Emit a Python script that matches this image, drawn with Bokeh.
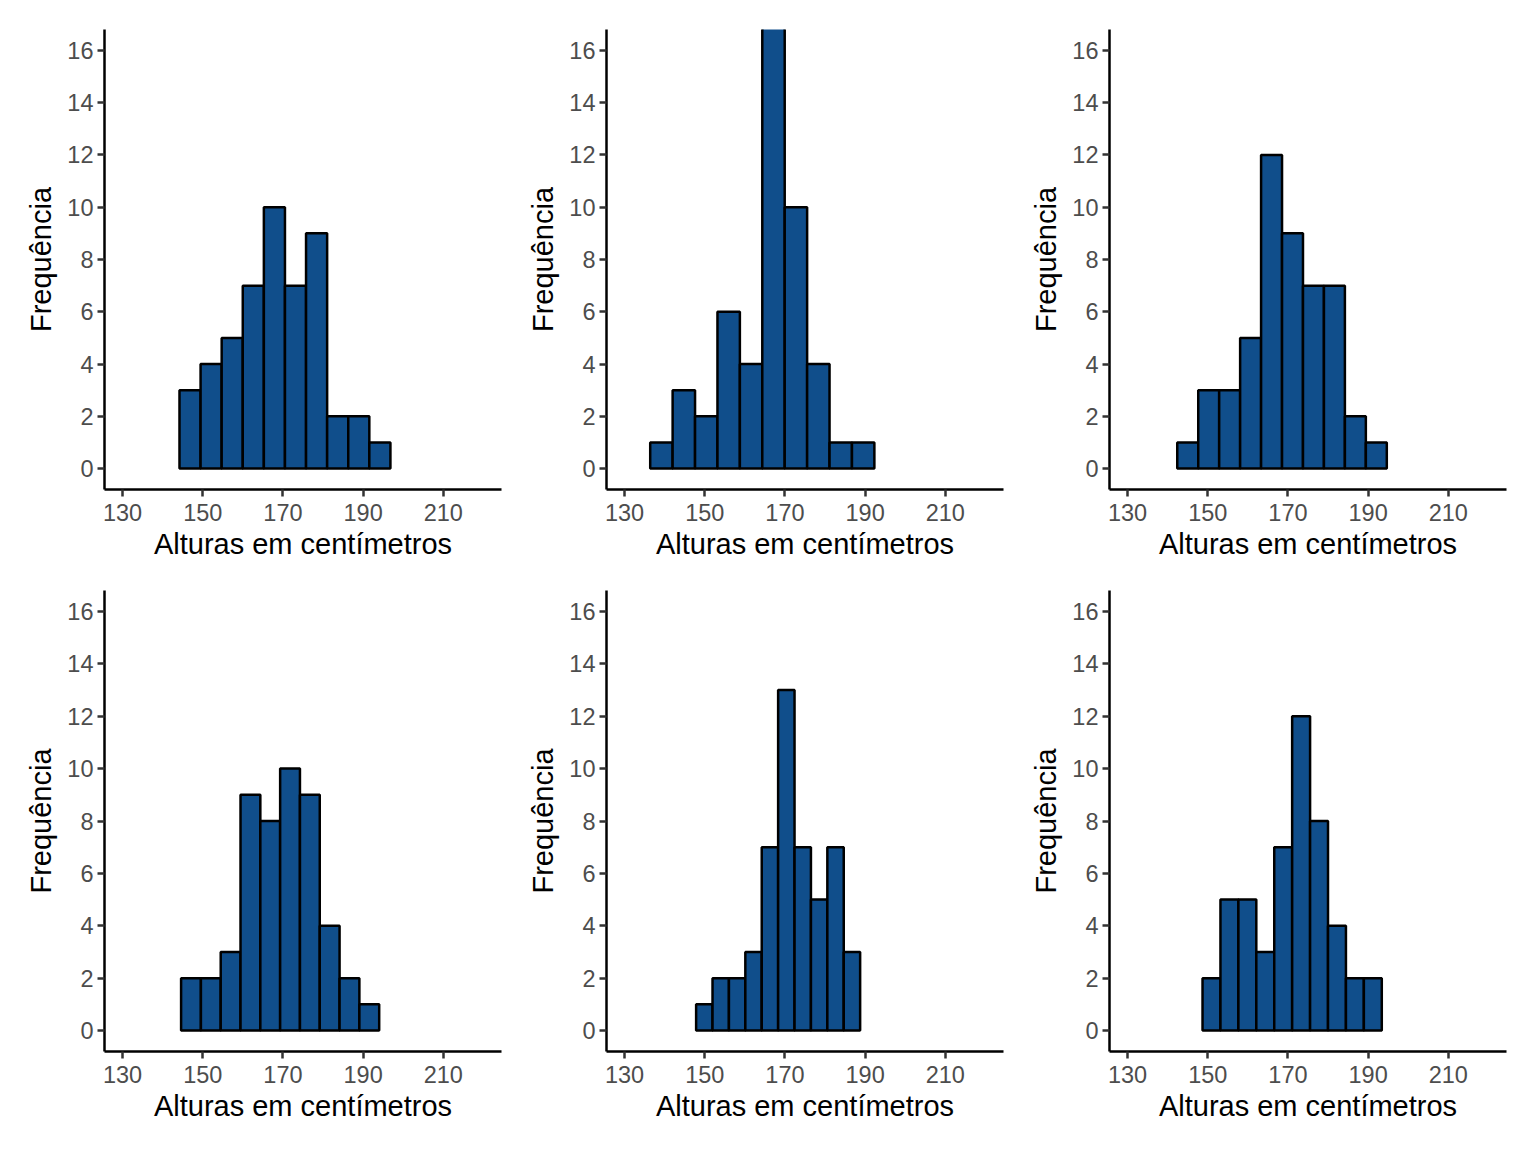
import numpy as np
from bokeh.plotting import figure
from bokeh.layouts import column, row
from bokeh.models import Range1d, FixedTicker
from bokeh.embed import file_html
from bokeh.resources import INLINE

# ---- data (10 bins per panel) ----
counts_1 = [3, 4, 5, 7, 10, 7, 9, 2, 2, 1]
counts_2 = [1, 3, 2, 6, 4, 18, 10, 4, 1, 1]
counts_3 = [1, 3, 3, 5, 12, 9, 7, 7, 2, 1]
counts_4 = [2, 2, 3, 9, 8, 10, 9, 4, 2, 1]
counts_5 = [1, 2, 2, 3, 7, 13, 7, 5, 7, 3]
counts_6 = [2, 5, 5, 3, 7, 12, 8, 4, 2, 2]

# histogram range (first bin left edge, last bin right edge), in cm
range_1 = (144.2, 196.8)
range_2 = (136.4, 192.3)
range_3 = (142.4, 194.65)
range_4 = (144.6, 194.0)
range_5 = (147.85, 188.75)
range_6 = (148.7, 193.4)

x_ticks = [130, 150, 170, 190, 210]
y_ticks = [0, 2, 4, 6, 8, 10, 12, 14, 16]
x_label = "Alturas em centímetros"
y_label = "Frequência"

panels = [(counts_1, range_1), (counts_2, range_2), (counts_3, range_3),
          (counts_4, range_4), (counts_5, range_5), (counts_6, range_6)]

FONT = "Liberation Sans"
FILL = "#104E8B"


def make_panel(counts, rng, width, height, left_b, top_b, frame_h):
    p = figure(width=width, height=height, output_backend="svg",
               toolbar_location=None,
               x_range=Range1d(125.5, 224.5), y_range=Range1d(-0.8, 16.8),
               min_border_left=left_b, min_border_right=width - left_b - 397,
               min_border_top=top_b, min_border_bottom=height - top_b - frame_h)
    edges = np.linspace(rng[0], rng[1], len(counts) + 1)
    p.quad(left=edges[:-1], right=edges[1:], bottom=0, top=counts,
           fill_color=FILL, line_color="black", line_width=2.5)
    p.outline_line_color = None
    p.grid.visible = False
    p.background_fill_color = "white"
    p.border_fill_color = "white"
    for ax, ticks, lab in ((p.xaxis[0], x_ticks, x_label), (p.yaxis[0], y_ticks, y_label)):
        ax.ticker = FixedTicker(ticks=ticks)
        ax.axis_label = lab
        ax.axis_label_text_font = FONT
        ax.axis_label_text_font_size = "29px"
        ax.axis_label_text_font_style = "normal"
        ax.axis_label_text_color = "black"
        ax.major_label_text_font = FONT
        ax.major_label_text_font_size = "23.5px"
        ax.major_label_text_color = "#4D4D4D"
        ax.axis_line_color = "black"
        ax.axis_line_width = 2.5
        ax.major_tick_line_color = "#333333"
        ax.major_tick_line_width = 2.5
        ax.major_tick_out = 7
        ax.major_tick_in = 0
        ax.minor_tick_line_color = None
        ax.major_label_standoff = 4
    p.xaxis[0].major_label_standoff = 7
    p.xaxis[0].axis_label_standoff = 4
    p.yaxis[0].axis_label_standoff = 7
    return p


col_widths = [510, 503, 510]
col_left = [104, 96, 96]
row_heights = [569, 562]
row_top = [29, 21]
row_frame = [460, 461]

figs = []
for i, (c, r) in enumerate(panels):
    ci = i % 3
    ri = i // 3
    figs.append(make_panel(c, r, col_widths[ci], row_heights[ri], col_left[ci],
                           row_top[ri], row_frame[ri]))

layout = column(row(*figs[:3]), row(*figs[3:]))
open("out.html", "w").write(file_html(layout, INLINE))
